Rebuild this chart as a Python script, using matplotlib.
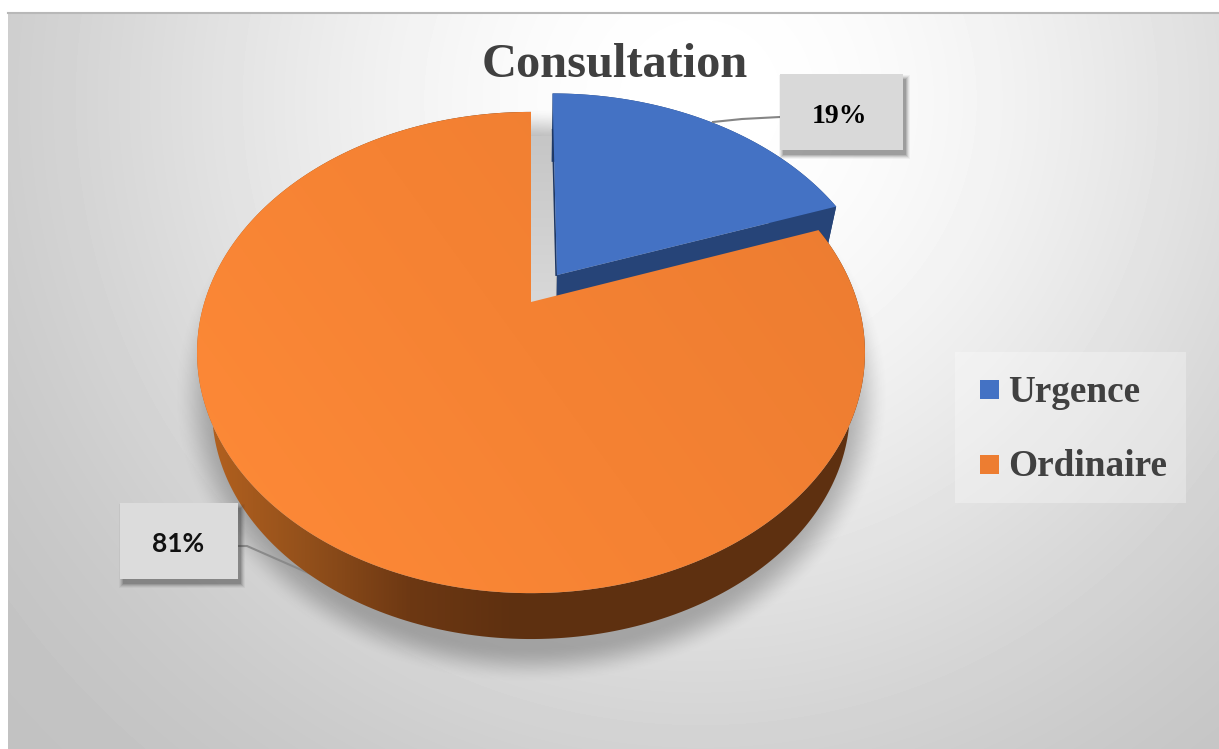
import numpy as np
import matplotlib
matplotlib.use("Agg")
import matplotlib.pyplot as plt
from matplotlib.patches import Polygon, Rectangle
from matplotlib.colors import LinearSegmentedColormap

categories = ["Urgence", "Ordinaire"]
values = [19, 81]
colors = ["#4472c4", "#ed7d31"]
title = "Consultation"

W, H = 1219, 749
SERIF = "Liberation Serif"

# perspective of the pie disc, in pixels
CX, CY = 531, 302
A, B, K = 326.5, 230, 0.21
EXPLODE = 0.145
VIEW_WARP = 3.0
# the bottom face is a bit smaller and lower than the top one
BOTTOM_SCALE, BOTTOM_DROP = 0.955, 59


def project(u, v, bottom=False):
    w = 1 + K * v
    x, y = A * u / w, B * v / w
    if bottom:
        x, y = x * BOTTOM_SCALE, y * BOTTOM_SCALE - BOTTOM_DROP
    return np.column_stack([CX + x, CY - y])


def rim(t1, t2, shift=(0, 0), bottom=False):
    t = np.linspace(t1, t2, 300)
    t = np.radians(t + VIEW_WARP * np.sin(np.radians(2 * t)))
    return project(np.sin(t) + shift[0], np.cos(t) + shift[1], bottom)


def apex(shift=(0, 0), bottom=False):
    return project(np.array([shift[0]]), np.array([shift[1]]), bottom)


def gradient_fill(ax, pts, xs, ys, stops, z):
    # stops are drawn along the direction (xs, ys) and clipped to the polygon
    gx, gy = np.meshgrid(np.arange(W), np.arange(H))
    g = (gx - xs[0]) * (xs[1] - xs[0]) + (gy - ys[0]) * (ys[1] - ys[0])
    g = g / ((xs[1] - xs[0]) ** 2 + (ys[1] - ys[0]) ** 2)
    cmap = LinearSegmentedColormap.from_list("g", stops)
    im = ax.imshow(np.clip(g, 0, 1), cmap=cmap, vmin=0, vmax=1, extent=(0, W, H, 0),
                   zorder=z, interpolation="bilinear", aspect="auto")
    patch = Polygon(pts, closed=True, transform=ax.transData, fill=False, lw=0)
    ax.add_patch(patch)
    im.set_clip_path(patch)


def label_box(ax, x0, y0, x1, y1, fc):
    # soft drop shadow, then the box
    for grow, a in [(4, 0.05), (3, 0.08), (2, 0.11), (1, 0.14), (0, 0.18)]:
        ax.add_patch(Rectangle((x0 + 3 - grow, y0 + 5 - grow), x1 - x0 + 2 * grow, y1 - y0 + 2 * grow,
                               fc="#303030", ec="none", alpha=a, zorder=20))
    ax.add_patch(Rectangle((x0, y0), x1 - x0, y1 - y0, fc=fc, ec="none", zorder=21))


fig = plt.figure(figsize=(W / 100, H / 100), dpi=100, facecolor="white")
ax = fig.add_axes([0, 0, 1, 1])

# radial background of the chart area
gx, gy = np.meshgrid(np.arange(8, W), np.arange(12, H))
r = np.clip(np.hypot(gx - 700, gy - 100) / 1000, 0, 1)
bg = (255 - 62 * np.sin(np.pi / 2 * r) ** 2) / 255
ax.imshow(bg, cmap="gray", vmin=0, vmax=1, extent=(8, W, H, 12), zorder=0, aspect="auto")
ax.plot([8, W], [12.5, 12.5], color="#b8b8b8", lw=1.5, zorder=1)

# soft shadow under the pie
gx, gy = np.meshgrid(np.arange(W), np.arange(H))
rr = np.hypot((gx - 531) / 325, (gy - 395) / 262)
fade = np.clip((1.10 - rr) / 0.14, 0, 1)
shadow = np.zeros((H, W, 4))
shadow[..., :3] = 0.25
shadow[..., 3] = 0.36 * fade * fade * (3 - 2 * fade)
ax.imshow(shadow, extent=(0, W, H, 0), zorder=2, aspect="auto")

# slice angles, clockwise from 12 o'clock
angles = 360 * np.cumsum([0] + values) / sum(values)
a0, a1, a2 = angles
mid = np.radians((a0 + a1) / 2)
shift = (EXPLODE * np.sin(mid), EXPLODE * np.cos(mid))

# grey gap left by the pulled out slice
gap = [[CX, 136], [apex(shift)[0, 0] - 1, 136], [apex(shift)[0, 0] - 1, apex(shift, True)[0, 1]], [CX, CY]]
gradient_fill(ax, gap, (0, 0), (136, 300), ["#c6c6c6", "#d8d8d8"], 3)

# blue slice: walls first, then the top
blue_rim_top = rim(a0, a1, shift)
blue_rim_bot = rim(a0, a1, shift, True)
ax.add_patch(Polygon(np.vstack([blue_rim_top, blue_rim_bot[::-1]]), fc="#1f3f73", ec="none", zorder=4))
ax.add_patch(Polygon(np.vstack([apex(shift), blue_rim_top[-1:], blue_rim_bot[-1:], apex(shift, True)]),
                     fc="#264478", ec="none", zorder=5))
ax.add_patch(Polygon(np.vstack([apex(shift), blue_rim_top]), fc=colors[0], ec="none", zorder=6))
# thin dark side wall on the lower part of the left edge
p0, p1 = apex(shift)[0], blue_rim_top[0]
edge = np.vstack([p0, p0 + 0.8 * (p1 - p0)])
ax.plot(edge[:, 0] - 0.8, edge[:, 1], color="#1f3864", lw=1.2, zorder=5.5)

# orange slice
orange_top = rim(a1, a2)
orange_bot = rim(a1, a2, bottom=True)
wall = np.vstack([orange_top, orange_bot[::-1]])
gradient_fill(ax, wall, (200, 620), (0, 0),
              ["#b5621f", "#93501b", "#6d3813", "#5e3010", "#5e3010"], 7)
gradient_fill(ax, np.vstack([apex(), orange_top]), (250, 800), (550, 150),
              ["#fd8937", "#f58233", "#ed7d31"], 8)

# leader lines
ax.plot([780, 742, 713], [117, 119, 122], color="#858585", lw=1.5, zorder=9)
ax.plot([238, 247, 322], [546, 546, 579], color="#8a8a8a", lw=1.5, zorder=6.5)

# data labels
label_box(ax, 780, 74, 903, 150, "#d9d9d9")
label_box(ax, 120, 503, 238, 579, "#dcdcdc")
ax.text(840, 123, f"{values[0]}%", family=SERIF, weight="bold", fontsize=20, color="black",
        ha="center", va="baseline", zorder=22)
ax.text(178, 552, f"{values[1]}%", family="Lato", weight="bold", fontsize=19, color="#111111",
        ha="center", va="baseline", zorder=22)

# legend
ax.add_patch(Rectangle((955, 352), 231, 151, fc="white", ec="none", alpha=0.3, zorder=10))
for name, col, y in zip(categories, colors, [390, 465]):
    ax.add_patch(Rectangle((980, y - 10), 19, 19, fc=col, ec="none", zorder=11))
    ax.text(1008, y + 11.5, name, family=SERIF, weight="bold", fontsize=26.8, color="#404040",
            ha="left", va="baseline", zorder=11)

ax.text(615, 77, title, family=SERIF, weight="bold", fontsize=34.8, color="#404040",
        ha="center", va="baseline", zorder=12)

ax.set_xlim(0, W)
ax.set_ylim(H, 0)
ax.axis("off")
fig.savefig("out.png", dpi=100, facecolor="white")
